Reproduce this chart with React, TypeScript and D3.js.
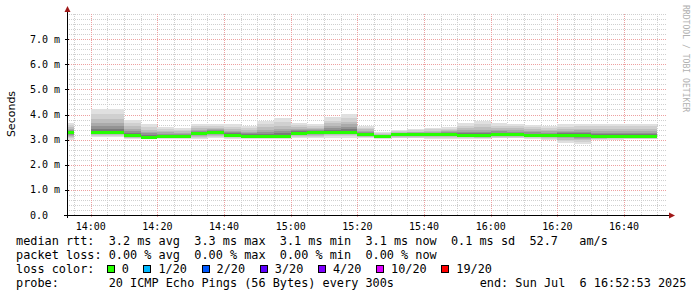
import React from "react";
import * as d3 from "d3";

// ---- data (5-minute intervals, ms) ----
const intervalStarts = [
  "13:50","13:55","14:00","14:05","14:10","14:15","14:20","14:25","14:30","14:35",
  "14:40","14:45","14:50","14:55","15:00","15:05","15:10","15:15","15:20","15:25",
  "15:30","15:35","15:40","15:45","15:50","15:55","16:00","16:05","16:10","16:15",
  "16:20","16:25","16:30","16:35","16:40","16:45",
];
const smokeMin: (number | null)[] = [
  3.0, null, 3.12, 3.12, 3.02, 3.02, 3.03, 3.03, 3.04, 3.05,
  3.04, 3.03, 3.03, 3.04, 3.06, 3.06, 3.08, 3.08, 3.05, 3.04,
  3.05, 3.05, 3.04, 3.04, 3.03, 3.02, 3.05, 3.05, 3.04, 3.0,
  2.88, 2.83, 2.98, 3.0, 3.02, 3.02,
];
const medianRtt: (number | null)[] = [
  3.27, null, 3.27, 3.27, 3.15, 3.1, 3.14, 3.14, 3.23, 3.27,
  3.17, 3.14, 3.13, 3.13, 3.26, 3.27, 3.3, 3.3, 3.22, 3.13,
  3.2, 3.2, 3.21, 3.22, 3.16, 3.15, 3.2, 3.2, 3.17, 3.17,
  3.17, 3.18, 3.13, 3.13, 3.13, 3.13,
];
const smokeMax: (number | null)[] = [
  3.65, null, 4.22, 4.22, 3.8, 3.62, 3.51, 3.46, 3.62, 3.62,
  3.62, 3.54, 3.75, 3.85, 3.66, 3.62, 3.89, 4.02, 3.54, 3.3,
  3.38, 3.41, 3.46, 3.49, 3.66, 3.74, 3.66, 3.62, 3.6, 3.56,
  3.62, 3.62, 3.64, 3.64, 3.64, 3.64,
];
const yTicks = [0, 1, 2, 3, 4, 5, 6, 7];
const xTickLabels = ["14:00","14:20","14:40","15:00","15:20","15:40","16:00","16:20","16:40"];
const lossLabels = ["0", "1/20", "2/20", "3/20", "4/20", "10/20", "19/20"];
const lossColors = ["#26ff00", "#00b8ff", "#0059ff", "#5e00ff", "#7e00ff", "#dd00ff", "#ff0000"];
const legendLines = [
  "median rtt:  3.2 ms avg  3.3 ms max  3.1 ms min  3.1 ms now  0.1 ms sd  52.7   am/s",
  "packet loss: 0.00 % avg  0.00 % max  0.00 % min  0.00 % now",
];
const probeText = "probe:       20 ICMP Echo Pings (56 Bytes) every 300s";
const endText = "end: Sun Jul  6 16:52:53 2025";

const smokeFracs = [1, 0.78, 0.58, 0.42, 0.28, 0.17, 0.08];
const smokeColors = ["#e0e0e0", "#d0d0d0", "#bebebe", "#aaaaaa", "#939393", "#7a7a7a", "#5c5c5c"];

const t = (hm: string) => new Date(`2025-07-06T${hm}:00`);
const endTime = new Date("2025-07-06T16:52:53");
const startTime = new Date(endTime.getTime() - 3 * 3600 * 1000);
const nb = (s: string) => s.replace(/ /g, "\u00A0");

export default function App() {
  const W = 697, H = 297;
  const L = 67, R = 667, T = 14, B = 215;
  const x = d3.scaleTime().domain([startTime, endTime]).range([L, R]);
  const y = d3.scaleLinear().domain([0, 8]).range([B, T]);
  const mono = "'DejaVu Sans Mono', monospace";
  const cw = 11.85 * 0.60205;

  const minorY = d3.range(0, 8.001, 0.2).filter((v) => Math.abs(v - Math.round(v)) > 1e-6 || v > 7.5);
  const minorX = d3.timeMinute.every(5)!.range(startTime, endTime).filter((d) => d.getMinutes() % 20 !== 0);
  const majorX = xTickLabels.map(t);

  const intervals = intervalStarts.map((s, i) => {
    const a = t(s);
    const b = new Date(a.getTime() + 300000);
    return { a, b, lo: smokeMin[i], med: medianRtt[i], hi: smokeMax[i] };
  });

  // legend layout
  let lx = 16 + 13 * cw - 2;
  const legendItems = lossLabels.map((lab, i) => {
    const sq = lx;
    const tx = sq + 15;
    lx = tx + lab.length * cw + 14.6;
    return { lab, sq, tx, color: lossColors[i] };
  });

  return (
    <svg width={W} height={H} style={{ position: "absolute", left: 0, top: 0, background: "#fff" }}>
      <defs>
        <clipPath id="plot">
          <rect x={L} y={T} width={R - L} height={B - T} />
        </clipPath>
      </defs>
      <rect x={0} y={0} width={W} height={H} fill="#fff" />
      {/* minor grid */}
      <g stroke="#cfcfcf" strokeWidth={1} strokeDasharray="1,1" shapeRendering="crispEdges">
        {minorY.map((v, i) => (
          <line key={"my" + i} x1={L} x2={R} y1={Math.round(y(v)) + 0.5} y2={Math.round(y(v)) + 0.5} />
        ))}
        {minorX.map((d, i) => (
          <line key={"mx" + i} x1={Math.round(x(d)) + 0.5} x2={Math.round(x(d)) + 0.5} y1={T} y2={B} />
        ))}
      </g>
      {/* major grid */}
      <g stroke="#eda0a0" strokeWidth={1} strokeDasharray="1,1" shapeRendering="crispEdges">
        {yTicks.slice(1).map((v) => (
          <line key={"My" + v} x1={L - 2} x2={R} y1={Math.round(y(v)) + 0.5} y2={Math.round(y(v)) + 0.5} />
        ))}
        {majorX.map((d, i) => (
          <line key={"Mx" + i} x1={Math.round(x(d)) + 0.5} x2={Math.round(x(d)) + 0.5} y1={T} y2={B + 2} />
        ))}
      </g>
      {/* smoke */}
      <g clipPath="url(#plot)" shapeRendering="crispEdges">
        {intervals.map((iv, i) =>
          iv.med == null || iv.lo == null || iv.hi == null
            ? null
            : smokeFracs.map((f, k) => {
                const top = y(iv.med! + (iv.hi! - iv.med!) * f);
                const bot = y(iv.med! - (iv.med! - iv.lo!) * f);
                return (
                  <rect key={i + "-" + k} x={x(iv.a)} y={top} width={x(iv.b) - x(iv.a)} height={bot - top} fill={smokeColors[k]} />
                );
              })
        )}
        {intervals.map((iv, i) =>
          iv.med == null ? null : (
            <rect key={"m" + i} x={x(iv.a)} y={y(iv.med) - 1.5} width={x(iv.b) - x(iv.a)} height={3} fill={lossColors[0]} />
          )
        )}
      </g>
      {/* axes */}
      <g stroke="#000" strokeWidth={1} shapeRendering="crispEdges">
        <line x1={L + 0.5} x2={L + 0.5} y1={B + 3} y2={10} />
        <line x1={L - 3} x2={671} y1={B + 0.5} y2={B + 0.5} />
        {yTicks.map((v) => (
          <line key={"yt" + v} x1={L - 2} x2={L + 2} y1={Math.round(y(v)) + 0.5} y2={Math.round(y(v)) + 0.5} />
        ))}
      </g>
      <path d={`M${L - 2.5},12 L${L + 3.5},12 L${L + 0.5},6 Z`} fill="#a01818" />
      <path d={`M669,${B - 2.5} L669,${B + 3.5} L675,${B + 0.5} Z`} fill="#a01818" />
      {/* y labels */}
      <g fontFamily={mono} fontSize={10} fill="#000">
        {yTicks.map((v) => (
          <text key={"yl" + v} x={30} y={y(v) + 3.6}>
            {v === 0 ? "0.0" : nb(`${v.toFixed(1)} m`)}
          </text>
        ))}
        {majorX.map((d, i) => (
          <text key={"xl" + i} x={x(d)} y={230} textAnchor="middle">
            {xTickLabels[i]}
          </text>
        ))}
      </g>
      <text transform="translate(15,114) rotate(-90)" textAnchor="middle" fontFamily="'DejaVu Sans', sans-serif" fontSize={11} fill="#000">
        Seconds
      </text>
      <text transform="translate(683,5) rotate(90)" fontFamily={mono} fontSize={8.1} fill="#b0b0b0">
        {nb("RRDTOOL / TOBI OETIKER")}
      </text>
      {/* legend */}
      <g fontFamily={mono} fontSize={11.85} fill="#000">
        {legendLines.map((s, i) => (
          <text key={"ll" + i} x={16} y={245 + i * 14}>
            {nb(s)}
          </text>
        ))}
        <text x={16} y={273}>{nb("loss color:")}</text>
        {legendItems.map((it, i) => (
          <g key={"li" + i}>
            <rect x={it.sq + 0.5} y={265.5} width={7} height={7} fill={it.color} stroke="#000" strokeWidth={1} shapeRendering="crispEdges" />
            <text x={it.tx} y={273}>{it.lab}</text>
          </g>
        ))}
        <text x={16} y={287}>{nb(probeText)}</text>
        <text x={16 + 65 * cw} y={287}>{nb(endText)}</text>
      </g>
    </svg>
  );
}
